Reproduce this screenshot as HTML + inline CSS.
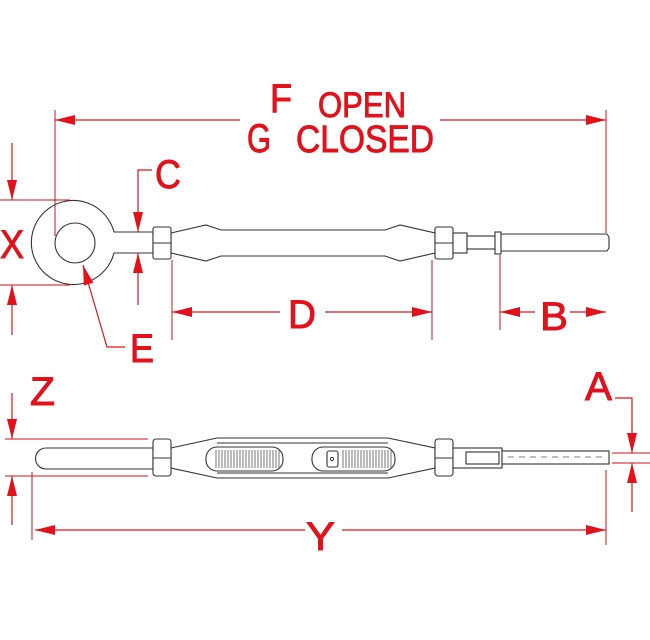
<!DOCTYPE html>
<html><head><style>html,body{margin:0;padding:0;background:#fff}svg{display:block}</style></head><body>
<svg width="650" height="640" viewBox="0 0 650 640" xmlns="http://www.w3.org/2000/svg">
<defs>
<marker id="a" viewBox="0 0 20 10" refX="20" refY="5" markerWidth="20" markerHeight="10" markerUnits="userSpaceOnUse" orient="auto"><path d="M0,0L20,5L0,10z" fill="#e3111b"/></marker>
</defs>
<g stroke="#333" stroke-width="1.1" fill="#fff">
<path d="M114,232 A42,42 0 1 0 114,253 L153,253 L153,232 Z"/>
<circle cx="75" cy="243" r="20"/>
<path d="M171,233 L206,225 L221,230 L385,230 L400,225 L435,233 L435,253 L400,261 L385,256 L221,256 L206,261 L171,253Z"/>
<rect x="153" y="227" width="18" height="32" rx="2"/><line x1="153" y1="243" x2="171" y2="243"/>
<rect x="435" y="227" width="18" height="32" rx="2"/><line x1="435" y1="243" x2="453" y2="243"/>
<rect x="453" y="233" width="14" height="20"/>
<rect x="467" y="236" width="28" height="13"/>
<rect x="495" y="232" width="6" height="22"/>
<path d="M501,234 L607,234 L609,237 L609,248 L607,251 L501,251Z"/>
<path d="M46,448 L153,448 L153,469 L46,469 A10.5,10.5 0 0 1 46,448Z"/>
<path d="M171,448 L217,438 L388,438 L435,448 L435,468 L388,478 L217,478 L171,468Z"/>
<line x1="217" y1="443" x2="388" y2="443"/><line x1="217" y1="473" x2="388" y2="473"/>
<rect x="206" y="447" width="77" height="24" rx="11"/>
<rect x="312" y="447" width="83" height="24" rx="11"/>
<rect x="327" y="451" width="11" height="16" rx="2"/>
<rect x="153" y="439" width="18" height="37" rx="3"/><line x1="153" y1="458" x2="171" y2="458"/>
<rect x="435" y="439" width="18" height="37" rx="3"/><line x1="435" y1="458" x2="453" y2="458"/>
<rect x="453" y="448" width="49" height="20"/>
<rect x="466" y="452" width="33" height="12"/>
<rect x="502" y="451" width="107" height="13"/>
</g>
<g stroke="#555" stroke-width="0.8">
<path d="M216,450V468M219,450V468M222,450V468M225,450V468M228,450V468M231,450V468M234,450V468M237,450V468M240,450V468M243,450V468M246,450V468M249,450V468M252,450V468M255,450V468M258,450V468M261,450V468M264,450V468M267,450V468M270,450V468M273,450V468M276,450V468M279,450V468"/>
<path d="M343,450V468M346,450V468M349,450V468M352,450V468M355,450V468M358,450V468M361,450V468M364,450V468M367,450V468M370,450V468M373,450V468M376,450V468M379,450V468M382,450V468M385,450V468M388,450V468M391,450V468"/>
<line x1="508" y1="457" x2="605" y2="457" stroke-dasharray="6,5"/>
</g>
<circle cx="332" cy="459" r="1.6" fill="none" stroke="#333"/>
<g stroke="#c9151d" stroke-width="1" fill="none">
<line x1="55" y1="110" x2="55" y2="236"/><line x1="606" y1="110" x2="606" y2="233"/>
<line x1="0" y1="200" x2="70" y2="200"/><line x1="0" y1="285" x2="70" y2="285"/>
<line x1="172" y1="260" x2="172" y2="340"/><line x1="432" y1="260" x2="432" y2="340"/>
<line x1="500" y1="255" x2="500" y2="330"/>
<line x1="5" y1="439" x2="148" y2="439"/><line x1="5" y1="476" x2="148" y2="476"/>
<line x1="32" y1="472" x2="32" y2="540"/>
<line x1="612" y1="453" x2="650" y2="453"/><line x1="612" y1="463" x2="650" y2="463"/>
<line x1="606" y1="470" x2="606" y2="545"/>
</g>
<g stroke="#e3111b" stroke-width="1.2" fill="none">
<line x1="240" y1="120" x2="55" y2="120" marker-end="url(#a)"/>
<line x1="440" y1="120" x2="606" y2="120" marker-end="url(#a)"/>
<line x1="12" y1="143" x2="12" y2="200" marker-end="url(#a)"/>
<line x1="12" y1="335" x2="12" y2="285" marker-end="url(#a)"/>
<polyline points="152,170 138,170 138,232" marker-end="url(#a)"/>
<line x1="138" y1="305" x2="138" y2="253" marker-end="url(#a)"/>
<line x1="280" y1="312" x2="172" y2="312" marker-end="url(#a)"/>
<line x1="325" y1="312" x2="432" y2="312" marker-end="url(#a)"/>
<line x1="535" y1="312" x2="500" y2="312" marker-end="url(#a)"/>
<line x1="570" y1="312" x2="606" y2="312" marker-end="url(#a)"/>
<polyline points="125,347 107,347 83,265" marker-end="url(#a)"/>
<line x1="12" y1="393" x2="12" y2="439" marker-end="url(#a)"/>
<line x1="12" y1="525" x2="12" y2="476" marker-end="url(#a)"/>
<polyline points="615,398 632,398 632,453" marker-end="url(#a)"/>
<line x1="632" y1="512" x2="632" y2="463" marker-end="url(#a)"/>
<line x1="305" y1="530" x2="35" y2="530" marker-end="url(#a)"/>
<line x1="342" y1="530" x2="606" y2="530" marker-end="url(#a)"/>
</g>
<g fill="#e3111b" stroke="#e3111b" stroke-width="0.9" font-family="Liberation Sans, sans-serif" font-size="40">
<text x="270" y="112" textLength="22" lengthAdjust="spacingAndGlyphs">F</text>
<text x="318" y="117" font-size="35" textLength="88" lengthAdjust="spacingAndGlyphs">OPEN</text>
<text x="247" y="152" textLength="24" lengthAdjust="spacingAndGlyphs">G</text>
<text x="296" y="152" font-size="38" textLength="138" lengthAdjust="spacingAndGlyphs">CLOSED</text>
<text x="0" y="258" textLength="24" lengthAdjust="spacingAndGlyphs">X</text>
<text x="155" y="188" textLength="26" lengthAdjust="spacingAndGlyphs">C</text>
<text x="288" y="328" textLength="28" lengthAdjust="spacingAndGlyphs">D</text>
<text x="540" y="330" textLength="28" lengthAdjust="spacingAndGlyphs">B</text>
<text x="130" y="362" textLength="24" lengthAdjust="spacingAndGlyphs">E</text>
<text x="30" y="405" textLength="25" lengthAdjust="spacingAndGlyphs">Z</text>
<text x="585" y="400" textLength="27" lengthAdjust="spacingAndGlyphs">A</text>
<text x="306" y="550" textLength="29" lengthAdjust="spacingAndGlyphs">Y</text>
</g>
</svg>
</body></html>
